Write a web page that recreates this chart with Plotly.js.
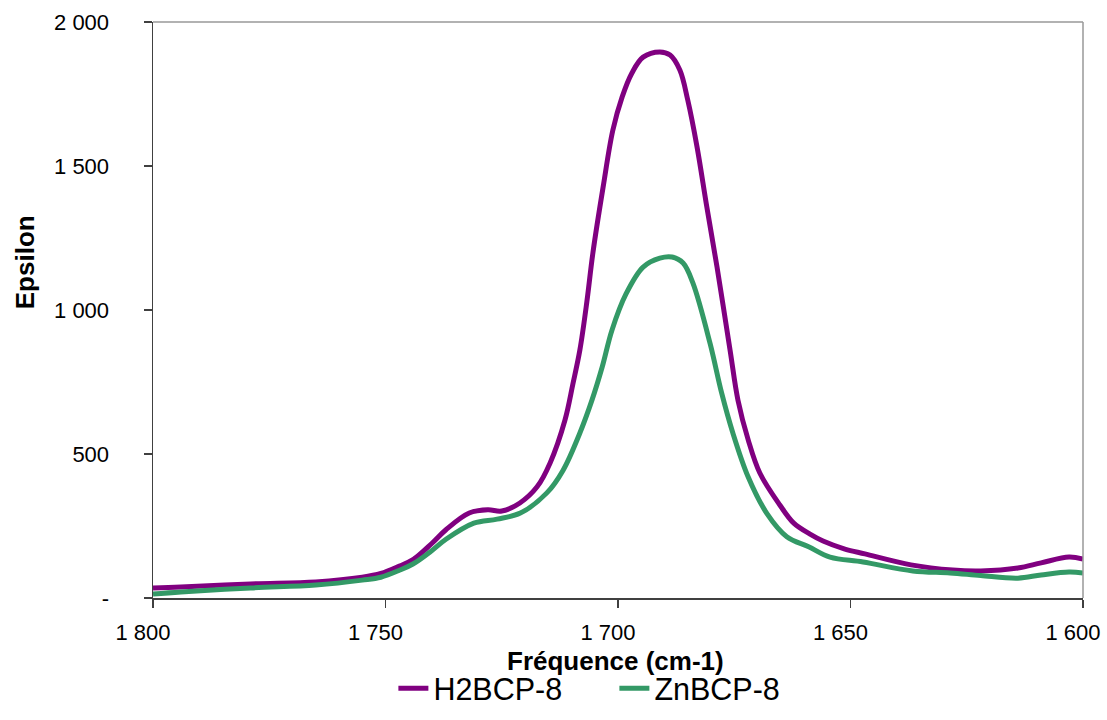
<!DOCTYPE html>
<html>
<head>
<meta charset="utf-8">
<script src="https://cdn.plot.ly/plotly-3.0.1.min.js"></script>
<style>html,body{margin:0;padding:0;background:#fff;}#chart{width:1107px;height:720px;}</style>
</head>
<body>
<div id="chart"></div>
<script>
// H2BCP-8 series
const h2Wave = [1800, 1794, 1779, 1765, 1755, 1751, 1747, 1744, 1740, 1737, 1732, 1728, 1725, 1721.1, 1717.4, 1714.6, 1711.4, 1709.7, 1708.2, 1706.7, 1705.4, 1703.2, 1701.1, 1699.1, 1697, 1694.6, 1691, 1688.8, 1686.7, 1685, 1683, 1680.9, 1678.7, 1675.9, 1674.2, 1672, 1669.5, 1665.2, 1662.2, 1658.7, 1655.9, 1651.2, 1646.9, 1637, 1628, 1622, 1614, 1609, 1603, 1600];
const h2Eps  = [35, 38, 49, 56, 72, 85, 111, 134, 190, 237, 295, 306, 302, 330, 386, 469, 618, 743, 861, 1028, 1198, 1427, 1625, 1740, 1823, 1878, 1896, 1885, 1833, 1729, 1566, 1358, 1149, 861, 687, 549, 434, 323, 260, 222, 198, 170, 153, 115, 97, 94, 104, 122, 142, 135];

// ZnBCP-8 series
const znWave = [1800, 1794, 1779, 1765, 1755, 1751, 1746.9, 1744.1, 1740.4, 1737, 1731, 1726, 1721, 1715.3, 1711.8, 1708.2, 1705.6, 1703.4, 1701.3, 1698.3, 1694.6, 1691, 1688.4, 1686, 1683.9, 1680.2, 1677.7, 1675.3, 1672, 1668, 1663.7, 1659, 1654.4, 1647.3, 1636.6, 1628.6, 1622, 1614, 1609, 1603, 1600];
const znEps  = [14, 21, 35, 45, 62, 72, 97, 118, 160, 204, 260, 274, 295, 365, 444, 573, 687, 802, 930, 1055, 1149, 1180, 1184, 1163, 1094, 884, 711, 573, 420, 294, 213, 178, 142, 125, 94, 87, 78, 69, 80, 90, 87];

// Axis tick labels
const xTickVals = [1800, 1750, 1700, 1650, 1600];
const xTickText = ["1 800", "1 750", "1 700", "1 650", "1 600"];
const yTickVals = [0, 500, 1000, 1500, 2000];
const yTickText = ["-", "500", "1 000", "1 500", "2 000"];

const seriesNames = ["H2BCP-8", "ZnBCP-8"];
const seriesColors = ["#800080", "#339966"];

const traces = [
  {x: h2Wave, y: h2Eps, name: seriesNames[0], type: "scatter", mode: "lines",
   line: {color: seriesColors[0], width: 5, shape: "spline", smoothing: 1}},
  {x: znWave, y: znEps, name: seriesNames[1], type: "scatter", mode: "lines",
   line: {color: seriesColors[1], width: 5, shape: "spline", smoothing: 1}}
];

const font = "Liberation Sans, Arial, sans-serif";

const layout = {
  width: 1107, height: 720,
  margin: {l: 153, r: 24, t: 22, b: 122},
  paper_bgcolor: "#fff", plot_bgcolor: "#fff",
  font: {family: font, color: "#000"},
  showlegend: true,
  legend: {orientation: "h", xref: "container", yref: "container",
           x: 0.555, xanchor: "center", y: 0.044, yanchor: "middle",
           font: {family: font, size: 30.5, color: "#000"}, itemwidth: 30, entrywidth: 176,
           traceorder: "normal"},
  xaxis: {
    range: [1800, 1600], autorange: false, automargin: false,
    tickmode: "array", tickvals: xTickVals, ticktext: xTickText,
    ticks: "outside", ticklen: 8, tickwidth: 1.5, tickcolor: "#404040",
    showline: true, linecolor: "#404040", linewidth: 1.5,
    showgrid: false, zeroline: false, ticklabeloverflow: "allow",
    tickfont: {family: font, size: 22, color: "#000"},
    ticklabelstandoff: 6, ticklabelshift: 10
  },
  yaxis: {
    range: [0, 2000], autorange: false, automargin: false,
    tickmode: "array", tickvals: yTickVals, ticktext: yTickText,
    ticks: "outside", ticklen: 8, tickwidth: 1.5, tickcolor: "#404040",
    showline: true, linecolor: "#404040", linewidth: 1.5,
    showgrid: false, zeroline: false, ticklabeloverflow: "allow",
    tickfont: {family: font, size: 22, color: "#000"},
    ticklabelstandoff: 30
  },
  annotations: [
    {text: "<b>Epsilon</b>", xref: "paper", yref: "paper", x: -0.1376, y: 0.583,
     xanchor: "center", yanchor: "middle", textangle: -90, showarrow: false,
     font: {family: font, size: 26, color: "#000"}},
    {text: "<b>Fréquence (cm-1)</b>", xref: "paper", yref: "paper", x: 0.4968, y: -0.1094,
     xanchor: "center", yanchor: "middle", showarrow: false,
     font: {family: font, size: 26, color: "#000"}}
  ],
  shapes: [
    {type: "line", xref: "paper", yref: "paper", x0: 0, x1: 1, y0: 1, y1: 1, line: {color: "#999", width: 1.5}},
    {type: "line", xref: "paper", yref: "paper", x0: 1, x1: 1, y0: 0, y1: 1, line: {color: "#999", width: 1.5}}
  ]
};

Plotly.newPlot("chart", traces, layout, {displayModeBar: false, staticPlot: true});
</script>
</body>
</html>
